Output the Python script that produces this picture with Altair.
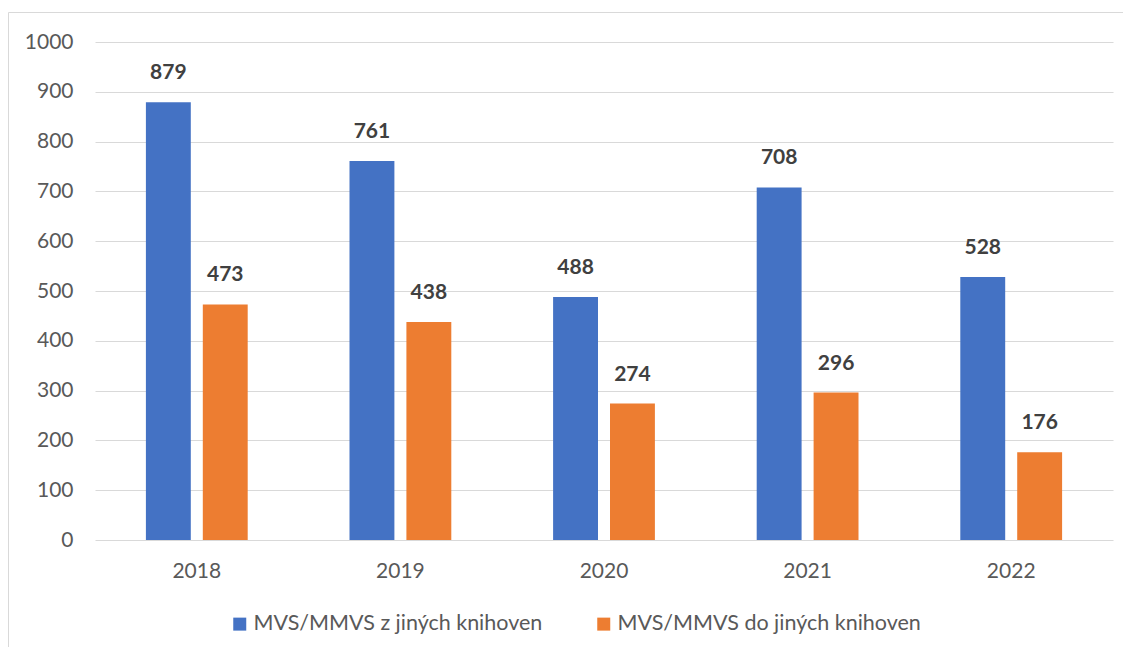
import altair as alt
import pandas as pd

years = ["2018", "2019", "2020", "2021", "2022"]
z_jinych = [879, 761, 488, 708, 528]
do_jinych = [473, 438, 274, 296, 176]
series = ["MVS/MMVS z jiných knihoven", "MVS/MMVS do jiných knihoven"]
colors = ["#4472C4", "#ED7D31"]
y_ticks = list(range(0, 1001, 100))

rows = []
for i, yr in enumerate(years):
    rows.append({"year": yr, "series": series[0], "value": z_jinych[i]})
    rows.append({"year": yr, "series": series[1], "value": do_jinych[i]})
df = pd.DataFrame(rows)

FONT = "Lato"
GRID = "#d9d9d9"
LBL = "#595959"

x = alt.X(
    "year:N",
    sort=years,
    scale=alt.Scale(paddingInner=0.5, paddingOuter=0.25),
    axis=alt.Axis(title=None, labelAngle=0, ticks=False, domain=False,
                  labelPadding=20, labelFontSize=21, labelColor=LBL, labelFont=FONT),
)
xo = alt.XOffset("series:N", sort=series,
                 scale=alt.Scale(domain=series, paddingInner=0.211, paddingOuter=0))
y = alt.Y(
    "value:Q",
    scale=alt.Scale(domain=[0, 1000], nice=False),
    axis=alt.Axis(values=y_ticks, format="d", title=None, ticks=False, domain=False,
                  grid=True, gridColor=GRID, gridWidth=1, labelPadding=22,
                  labelFontSize=21, labelColor=LBL, labelFont=FONT),
)
color = alt.Color(
    "series:N", sort=series,
    scale=alt.Scale(domain=series, range=colors),
    legend=alt.Legend(orient="none", legendX=134, legendY=571, direction="horizontal",
                      title=None, symbolType="square", symbolSize=169, symbolStrokeWidth=0,
                      labelFontSize=21.5, labelColor=LBL, labelFont=FONT, labelLimit=0,
                      columnPadding=50, labelOffset=3),
)

base = alt.Chart(df)
bars = base.mark_bar().encode(x=x, xOffset=xo, y=y, color=color)
labels = base.mark_text(baseline="bottom", dy=-19, font=FONT, fontSize=21,
                        fontWeight="bold", color="#404040").encode(
    x=x, xOffset=xo, y=y, text="value:Q")

frame = alt.Chart(pd.DataFrame({"a": [0]})).mark_rect(
    filled=False, stroke=GRID, strokeWidth=1).encode(
    x=alt.value(-86.5), x2=alt.value(1300), y=alt.value(-29.5), y2=alt.value(800))

chart = alt.layer(frame, bars, labels).properties(
    width=1018, height=498,
    autosize="none",
    padding={"left": 87, "top": 34, "right": 10, "bottom": 107},
    background="white",
).configure_view(strokeWidth=0)

chart.save("out.html", embed_options={"renderer": "svg", "actions": False})
